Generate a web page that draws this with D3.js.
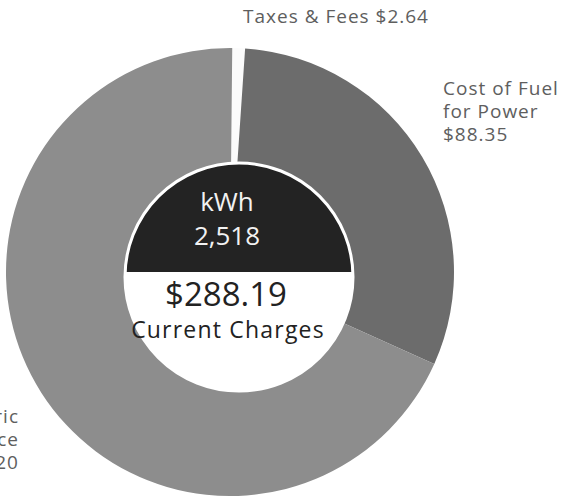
<!DOCTYPE html>
<html>
<head>
<meta charset="utf-8">
<script src="https://cdn.jsdelivr.net/npm/d3@7"></script>
<style>
  body { margin: 0; background: #fff; }
  text { font-family: "Open Sans", sans-serif; }
</style>
</head>
<body>
<svg id="canvas"></svg>
<script>
// bill breakdown
let categories = ["Taxes & Fees", "Cost of Fuel for Power", "Electric Service"];
let amounts = [2.64, 88.35, 197.2];
let labelLines = [
  ["Taxes & Fees $2.64"],
  ["Cost of Fuel", "for Power", "$88.35"],
  ["Electric", "Service", "$197.20"]
];
let kwhLines = ["kWh", "2,518"];
let totalLines = ["$288.19", "Current Charges"];

let colors = ["#fbfbfb", "#6c6c6c", "#8d8d8d"];

let width = 563;
let height = 501;
let cx = 230;
let cy = 272;
let outerR = 224;

let canvas = d3.select("#canvas").attr("width", width).attr("height", height);

let color = d3.scaleOrdinal().domain(categories).range(colors);

let pie = d3.pie().sort(null).value((d, i) => amounts[i]).startAngle(0.01).endAngle(2 * Math.PI + 0.01);
let arc = d3.arc().innerRadius(95).outerRadius(outerR);

let arcs = pie(categories);

canvas.append("g")
  .attr("transform", "translate(" + cx + "," + cy + ")")
  .selectAll("path")
  .data(arcs)
  .enter()
  .append("path")
  .attr("d", arc)
  .attr("fill", (d) => color(d.data));

// center disc, top half dark
let hole = { x: 239, y: 277, r: 114 };
canvas.append("clipPath").attr("id", "hole-clip")
  .append("circle").attr("cx", hole.x).attr("cy", hole.y).attr("r", hole.r);
canvas.append("circle")
  .attr("cx", hole.x).attr("cy", hole.y).attr("r", hole.r)
  .attr("fill", "#fff");
canvas.append("rect")
  .attr("clip-path", "url(#hole-clip)")
  .attr("x", hole.x - hole.r).attr("y", hole.y - hole.r)
  .attr("width", hole.r * 2).attr("height", 272 - (hole.y - hole.r))
  .attr("fill", "#232323");
canvas.append("circle")
  .attr("cx", hole.x).attr("cy", hole.y).attr("r", hole.r)
  .attr("fill", "none").attr("stroke", "#fff").attr("stroke-width", 3);

canvas.append("text")
  .attr("text-anchor", "middle")
  .attr("fill", "#f2f2f2").attr("font-size", 26)
  .selectAll("tspan").data(kwhLines).enter().append("tspan")
  .attr("x", 227).attr("y", (d, i) => 211 + i * 34)
  .text((d) => d);

canvas.append("text")
  .attr("x", 226).attr("y", 306).attr("text-anchor", "middle")
  .attr("fill", "#222").attr("font-size", 33)
  .text(totalLines[0]);
canvas.append("text")
  .attr("x", 228).attr("y", 338).attr("text-anchor", "middle")
  .attr("fill", "#222").attr("font-size", 23)
  .attr("letter-spacing", 1.2)
  .text(totalLines[1]);

// outside labels
let labelPos = [
  { x: 243, y: 23, anchor: "start" },
  { x: 443, y: 95, anchor: "start" },
  { x: 19, y: 423, anchor: "end" }
];
labelLines.forEach((lines, i) => {
  canvas.append("text")
    .attr("text-anchor", labelPos[i].anchor)
    .attr("fill", "#5e5e5e").attr("font-size", 19)
    .attr("letter-spacing", 1)
    .selectAll("tspan").data(lines).enter().append("tspan")
    .attr("x", labelPos[i].x)
    .attr("y", (d, j) => labelPos[i].y + j * 23)
    .text((d) => d);
});
</script>
</body>
</html>
